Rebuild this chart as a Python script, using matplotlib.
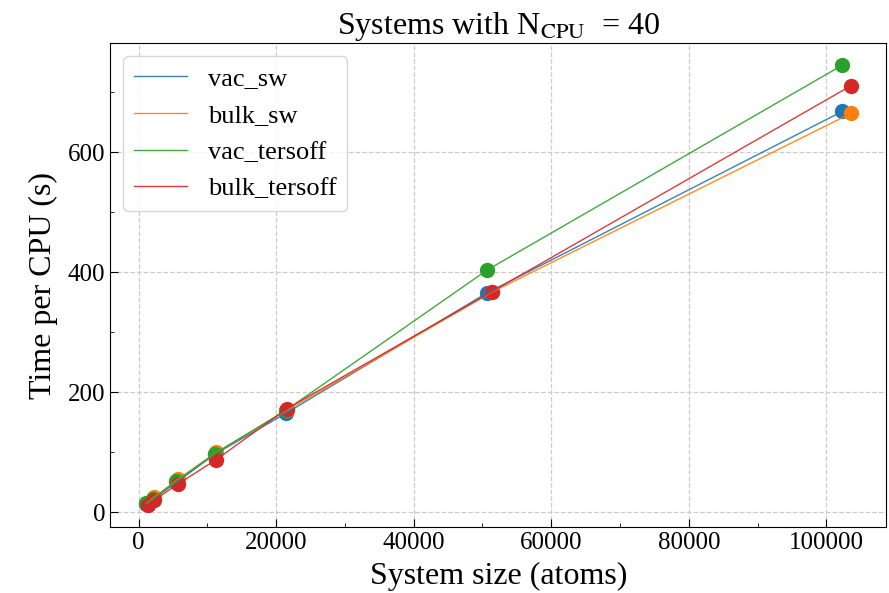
import matplotlib
matplotlib.use("Agg")
import matplotlib.pyplot as plt
from matplotlib.ticker import AutoMinorLocator

# system sizes (atoms)
vac_sizes = [1000, 2100, 5500, 11100, 21400, 50700, 102300]
bulk_sizes = [1300, 2200, 5700, 11300, 21600, 51400, 103600]

# time per CPU (s)
vac_sw = [14, 22, 50, 97, 165, 366, 668]
bulk_sw = [16, 25, 55, 100, 170, 367, 665]
vac_tersoff = [15, 23, 52, 98, 170, 404, 745]
bulk_tersoff = [12, 20, 47, 88, 173, 368, 711]

series = [
    ("vac_sw", vac_sizes, vac_sw, "#1f77b4"),
    ("bulk_sw", bulk_sizes, bulk_sw, "#ff7f0e"),
    ("vac_tersoff", vac_sizes, vac_tersoff, "#2ca02c"),
    ("bulk_tersoff", bulk_sizes, bulk_tersoff, "#d62728"),
]

plt.rcParams['font.family'] = ['Liberation Serif', 'DejaVu Serif']
plt.rcParams['mathtext.fontset'] = 'stix'

fig = plt.figure(figsize=(8.89, 5.93), dpi=100)
ax = fig.add_axes([0.124, 0.111, 0.873, 0.816])

for name, xs, ys, col in series:
    ax.scatter(xs, ys, s=100, color=col, zorder=1)
    ax.plot(xs, ys, color=col, lw=1.0, alpha=0.9, label=name, zorder=2)

ax.set_title(r"Systems with N$_{\mathrm{CPU}}$  = 40", fontsize=23, pad=7)
ax.set_xlabel("System size (atoms)", fontsize=23, labelpad=6)
ax.set_ylabel("Time per CPU (s)", fontsize=23, labelpad=7)
ax.set_xticks([0, 20000, 40000, 60000, 80000, 100000])
ax.set_yticks([0, 200, 400, 600])
ax.xaxis.set_minor_locator(AutoMinorLocator(2))
ax.yaxis.set_minor_locator(AutoMinorLocator(2))
ax.tick_params(which='both', direction='in', labelsize=18)
ax.tick_params(which='major', length=6)
ax.tick_params(which='minor', length=3)
ax.grid(True, ls='--', color='#cccccc', lw=0.9)
ax.set_axisbelow(True)

ax.legend(loc='upper left', fontsize=19, handlelength=2.0, framealpha=0.8)

fig.savefig("out.png", dpi=100)
